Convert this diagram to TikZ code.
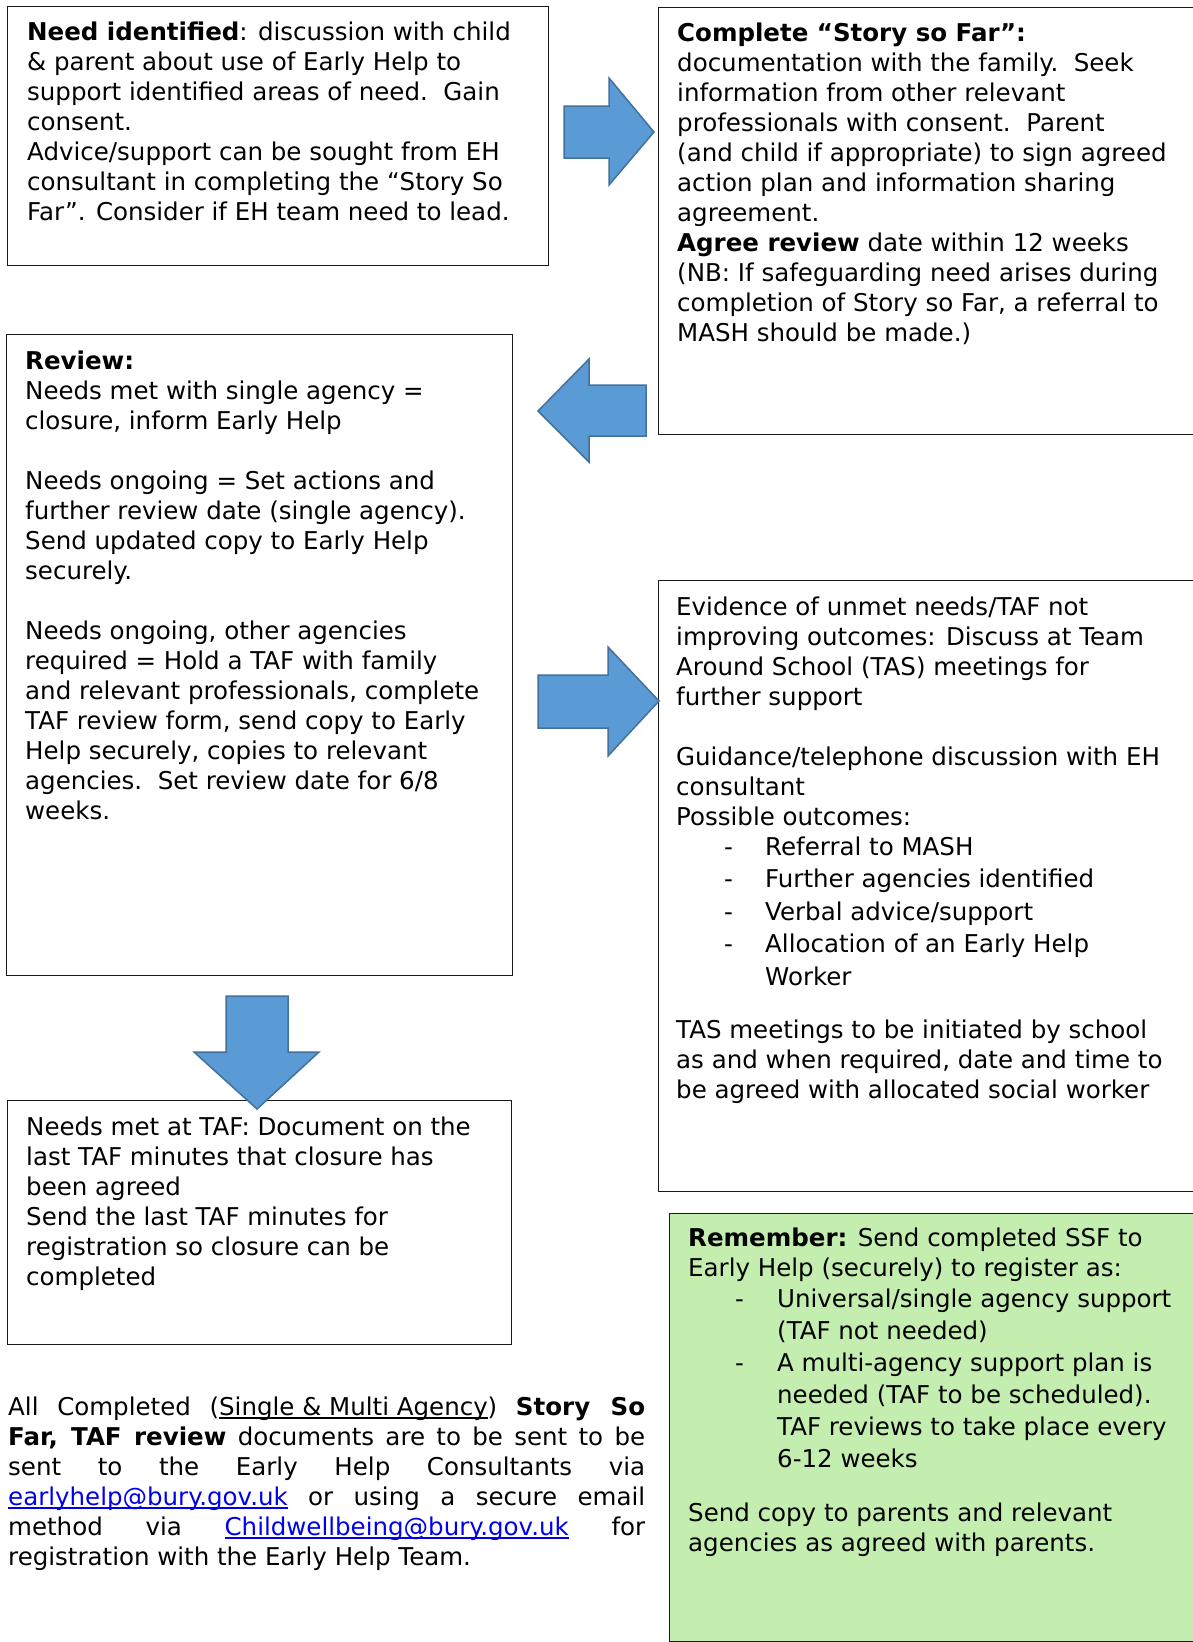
\documentclass[tikz,border=0pt]{standalone}
\usepackage{fontspec}
\setmainfont{DejaVu Sans}
\definecolor{arrowfill}{HTML}{5B9BD5}
\definecolor{arrowdraw}{HTML}{41719C}
\definecolor{notegreen}{RGB}{196,238,176}
\definecolor{linkblue}{RGB}{0,0,235}
\newcommand{\tstr}{\rule{0pt}{22pt}}
\newsavebox{\ulbox}
\newcommand{\myul}[1]{\sbox{\ulbox}{#1}\rlap{\rule[-3.5pt]{\wd\ulbox}{1.4pt}}\usebox{\ulbox}}
\newcommand{\lnk}[1]{\textcolor{linkblue}{\myul{#1}}}
\newcommand{\bul}{\makebox[89pt][l]{\hspace{48pt}-}}
\newcommand{\gbul}{\makebox[89pt][l]{\hspace{47pt}-}}
\newcommand{\jl}[1]{\makebox[637pt][s]{#1}}
\tikzset{
  box/.style={draw=black!90, line width=1.2pt, anchor=north west, inner sep=0pt},
  txt/.style={anchor=north west, inner sep=0pt, align=left, font=\fontsize{24.5}{30}\selectfont},
  blockarrow/.style={fill=arrowfill, draw=arrowdraw, line width=1.5pt, line join=miter},
}
\begin{document}
\begin{tikzpicture}[x=1pt,y=-1pt]
\useasboundingbox[fill=white] (0,0) rectangle (1192,1642);
% boxes
\node[box, minimum width=541pt, minimum height=259pt] (b1) at (7,6) {};
\node[box, minimum width=542pt, minimum height=427pt] (b2) at (658,7) {};
\node[box, minimum width=506pt, minimum height=641pt] (b3) at (6,334) {};
\node[box, minimum width=542pt, minimum height=611pt] (b4) at (658,580) {};
\node[box, minimum width=504pt, minimum height=244pt] (b5) at (7,1100) {};
\node[box, fill=notegreen, minimum width=531pt, minimum height=428pt] (b6) at (669,1213) {};

% texts
\node[txt] (t1) at (27,18) {\tstr\textbf{Need identified}: discussion with child\\
\& parent about use of Early Help to\\
support identified areas of need.\ \ Gain\\
consent.\\
Advice/support can be sought from EH\\
consultant in completing the “Story So\\
Far”. Consider if EH team need to lead.};

\node[txt] (t2) at (677,19) {\tstr\textbf{Complete “Story so Far”:}\\
documentation with the family.\ \ Seek\\
information from other relevant\\
professionals with consent.\ \ Parent\\
(and child if appropriate) to sign agreed\\
action plan and information sharing\\
agreement.\\
\textbf{Agree review} date within 12 weeks\\
(NB: If safeguarding need arises during\\
completion of Story so Far, a referral to\\
MASH should be made.)};

\node[txt] (t3) at (25,347) {\tstr\textbf{Review:}\\
Needs met with single agency =\\
closure, inform Early Help\\[30pt]
Needs ongoing = Set actions and\\
further review date (single agency).\\
Send updated copy to Early Help\\
securely.\\[30pt]
Needs ongoing, other agencies\\
required = Hold a TAF with family\\
and relevant professionals, complete\\
TAF review form, send copy to Early\\
Help securely, copies to relevant\\
agencies.\ \ Set review date for 6/8\\
weeks.};

\node[txt] (t4) at (676,593) {\tstr Evidence of unmet needs/TAF not\\
improving outcomes: Discuss at Team\\
Around School (TAS) meetings for\\
further support\\[30pt]
Guidance/telephone discussion with EH\\
consultant\\
Possible outcomes:\\
\bul Referral to MASH\\[2.5pt]
\bul Further agencies identified\\[2.5pt]
\bul Verbal advice/support\\[2.5pt]
\bul Allocation of an Early Help\\[2.5pt]
\makebox[89pt]{}Worker\\[23pt]
TAS meetings to be initiated by school\\
as and when required, date and time to\\
be agreed with allocated social worker};

\node[txt] (t5) at (26,1113) {\tstr Needs met at TAF: Document on the\\
last TAF minutes that closure has\\
been agreed\\
Send the last TAF minutes for\\
registration so closure can be\\
completed};

\node[txt] (t6) at (8,1393) {\tstr\jl{All Completed (\myul{Single \& Multi Agency}) \textbf{Story So}}\\
\jl{\textbf{Far, TAF review} documents are to be sent to be}\\
\jl{sent to the Early Help Consultants via}\\
\jl{\lnk{earlyhelp@bury.gov.uk} or using a secure email}\\
\jl{method via \lnk{Childwellbeing@bury.gov.uk} for}\\
registration with the Early Help Team.};

\node[txt] (t7) at (688,1224) {\tstr\textbf{Remember:} Send completed SSF to\\
Early Help (securely) to register as:\\[1pt]
\gbul Universal/single agency support\\[2pt]
\makebox[89pt]{}(TAF not needed)\\[2pt]
\gbul A multi-agency support plan is\\[2pt]
\makebox[89pt]{}needed (TAF to be scheduled).\\[2pt]
\makebox[89pt]{}TAF reviews to take place every\\[2pt]
\makebox[89pt]{}6-12 weeks\\[24pt]
Send copy to parents and relevant\\
agencies as agreed with parents.};

% block arrows
\draw[blockarrow] (564,106) -- (609,106) -- (609,78) -- (654,132) -- (609,185) -- (609,158) -- (564,158) -- cycle;
\draw[blockarrow] (646,385) -- (589,385) -- (589,359) -- (538,411) -- (589,462) -- (589,436) -- (646,436) -- cycle;
\draw[blockarrow] (538,675) -- (608,675) -- (608,647) -- (659,701) -- (608,756) -- (608,728) -- (538,728) -- cycle;
\draw[blockarrow] (226,996) -- (288,996) -- (288,1052) -- (319,1052) -- (257,1109) -- (194,1052) -- (226,1052) -- cycle;
\end{tikzpicture}
\end{document}
